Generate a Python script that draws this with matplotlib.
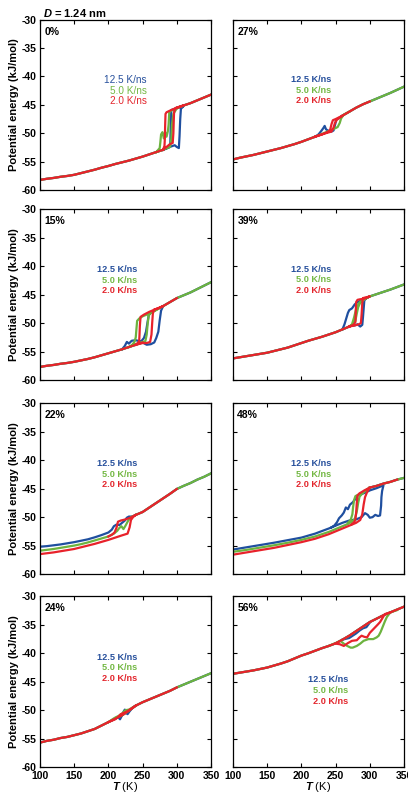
import numpy as np
import matplotlib.pyplot as plt

# Temperature grid shared by the base curves (K)
T_BASE = [100, 110, 120, 130, 140, 150, 160, 170, 180, 190, 200, 210, 220,
          230, 240, 250, 260, 270, 280, 290, 300, 310, 320, 330, 340, 350]

RATE_LABELS = ["12.5 K/ns", "5.0 K/ns", "2.0 K/ns"]
nan = np.nan

# ---- 0 % ----
E_BASE_00 = [-58.2, -58.0, -57.85, -57.65, -57.5, -57.3, -57.0, -56.7, -56.4, -56.05,
             -55.75, -55.4, -55.1, -54.8, -54.45, -54.1, -53.7, -53.3, -52.9, nan,
             -45.5, -45.1, -44.7, -44.2, -43.7, -43.2]
LOOP_00_125 = [(280, -52.9), (286, -52.6), (292, -52.3), (297, -52.1), (300, -52.4), (303, -52.6),
               (304, -50.5), (305, -47.5), (306, -45.7), (310, -45.2), (303, -45.5), (297, -45.7),
               (292, -45.9), (291.5, -47.0), (291, -49.5), (290.5, -51.8), (288, -52.5), (280, -52.9)]
LOOP_00_50 = [(270, -53.3), (280, -52.9), (286, -52.6), (290, -52.4), (292, -51.0), (293, -48.5),
              (295, -46.6), (300, -45.6), (310, -45.1), (300, -45.6), (292, -46.0), (289, -46.3),
              (288, -48.5), (287, -49.6), (285, -50.6), (283, -49.8), (281, -50.9), (279, -49.8),
              (277, -50.2), (276, -51.5), (275, -52.6), (270, -53.3)]
LOOP_00_20 = [(280, -52.9), (285, -52.4), (290, -51.9), (294, -51.7), (295, -50.0), (295.5, -48.0),
              (296, -46.3), (298, -45.6), (310, -45.1), (300, -45.5), (292, -45.9), (285, -46.3),
              (283.5, -46.6), (283, -48.5), (282.5, -51.0), (282, -52.2), (280, -52.9)]
END_00 = [350, 350, 350]

# ---- 27 % ----
E_BASE_27 = [-54.6, -54.3, -54.05, -53.8, -53.5, -53.2, -52.9, -52.6, -52.25, -51.9,
             -51.5, -51.05, -50.6, nan, nan, nan, -46.9, -46.2, -45.5, -44.9,
             -44.4, -43.9, -43.4, -42.9, -42.35, -41.8]
LOOP_27_125 = [(220, -50.6), (225, -50.2), (229, -49.6), (232, -49.1), (234, -48.7), (236, -49.3),
               (240, -49.6), (244, -49.7), (247, -49.5), (249, -48.6), (251, -47.6), (255, -47.3),
               (260, -46.9)]
LOOP_27_50 = [(220, -50.6), (230, -50.1), (240, -49.6), (248, -49.2), (253, -48.9), (256, -48.2),
              (258, -47.4), (262, -46.7), (270, -46.2)]
LOOP_27_20 = [(220, -50.6), (230, -50.2), (238, -49.8), (242, -49.4), (244, -48.4), (246, -47.7),
              (250, -47.5), (260, -46.9), (252, -47.6), (249, -48.2), (247, -49.0), (244, -49.7),
              (235, -50.0), (220, -50.6)]
END_27 = [350, 350, 300]

# ---- 15 % ----
E_BASE_15 = [-57.7, -57.5, -57.35, -57.15, -57.0, -56.8, -56.55, -56.3, -56.0, -55.65,
             -55.3, -54.95, -54.6, -54.2, -53.8, -53.4, nan, nan, -47.0, -46.3,
             -45.6, -45.1, -44.6, -44.0, -43.4, -42.8]
LOOP_15_125 = [(220, -54.6), (224, -54.0), (227, -53.3), (230, -53.6), (234, -53.1), (240, -53.0),
               (246, -53.2), (250, -53.4), (256, -53.8), (262, -53.7), (267, -53.4), (270, -52.6),
               (273, -51.5), (275, -49.5), (277, -47.8), (280, -47.0), (270, -47.6), (263, -48.0),
               (259, -48.6), (257, -50.0), (255, -51.5), (252, -52.6), (248, -53.2)]
LOOP_15_50 = [(230, -54.2), (240, -53.7), (250, -53.3), (254, -53.2), (256, -52.0), (257.5, -50.0),
              (259, -48.6), (262, -48.2), (270, -47.7), (280, -47.0), (270, -47.6), (260, -48.3),
              (250, -48.8), (245, -49.2), (242, -49.6), (241, -51.0), (240, -52.5), (238, -53.3),
              (235, -53.8), (230, -54.2)]
LOOP_15_20 = [(240, -53.8), (250, -53.5), (256, -53.5), (261, -53.3), (263, -52.0), (264, -50.0),
              (265, -48.3), (267, -47.6), (273, -47.4), (280, -47.0), (270, -47.5), (260, -48.0),
              (252, -48.5), (247, -48.9), (246, -50.5), (245.5, -52.0), (245, -53.2), (242, -53.6),
              (240, -53.8)]
END_15 = [350, 350, 300]

# ---- 39 % ----
E_BASE_39 = [-56.2, -56.0, -55.8, -55.6, -55.4, -55.2, -54.9, -54.6, -54.3, -53.9,
             -53.5, -53.1, -52.75, -52.4, -52.0, -51.6, -51.1, -50.6, nan, nan,
             -45.3, -44.9, -44.5, -44.1, -43.65, -43.2]
LOOP_39_125 = [(260, -51.1), (263, -50.2), (266, -49.0), (268, -48.2), (270, -47.7), (274, -47.4),
               (278, -46.7), (282, -46.3), (288, -46.0), (292, -45.8), (300, -45.3), (295, -45.6),
               (292, -46.0), (291, -47.5), (290, -49.0), (289, -50.3), (286, -50.6), (282, -50.2),
               (278, -50.4), (272, -50.5)]
LOOP_39_50 = [(270, -50.6), (276, -50.3), (279, -49.5), (281, -48.3), (283, -47.2), (286, -46.4),
              (292, -45.8), (300, -45.3), (290, -45.9), (284, -46.5), (280, -47.5), (277, -49.0),
              (274, -50.2), (270, -50.6)]
LOOP_39_20 = [(270, -50.6), (278, -50.4), (284, -50.2), (287, -50.0), (288, -48.5), (289, -46.5),
              (290, -45.6), (293, -45.5), (300, -45.3), (292, -45.7), (286, -45.8), (282, -45.9),
              (280, -46.3), (279.5, -48.0), (279, -49.8), (276, -50.3), (270, -50.6)]
END_39 = [350, 350, 300]

# ---- 22 % ----
E_BASE_22 = [nan, nan, nan, nan, nan, nan, nan, nan, nan, nan,
             nan, nan, nan, nan, -49.6, -49.1, -48.3, -47.5, -46.7, -45.9,
             -45.05, -44.5, -44.0, -43.4, -42.9, -42.3]
LOOP_22_125 = [(100, -55.2), (110, -55.1), (120, -54.95), (130, -54.8), (140, -54.6), (150, -54.4),
               (160, -54.15), (170, -53.9), (180, -53.55), (190, -53.15), (200, -52.7), (205, -52.2),
               (208, -51.6), (212, -51.3), (216, -51.4), (220, -51.0), (224, -50.6), (227, -50.1),
               (230, -49.9), (235, -49.9), (240, -49.6)]
LOOP_22_50 = [(100, -55.9), (110, -55.75), (120, -55.6), (130, -55.4), (140, -55.2), (150, -55.0),
              (160, -54.75), (170, -54.45), (180, -54.1), (190, -53.75), (200, -53.4), (208, -52.9),
              (213, -52.4), (216, -51.9), (219, -51.6), (222, -52.1), (225, -51.5), (229, -50.6),
              (233, -50.0), (240, -49.6)]
LOOP_22_20 = [(100, -56.5), (110, -56.35), (120, -56.2), (130, -56.0), (140, -55.8), (150, -55.6),
              (160, -55.3), (170, -55.0), (180, -54.7), (190, -54.35), (200, -54.0), (210, -53.6),
              (220, -53.2), (228, -52.9), (231, -51.8), (233, -50.5), (236, -50.0), (240, -49.6),
              (232, -50.1), (225, -50.4), (218, -50.6), (214, -50.8), (212, -51.8), (209, -52.7),
              (205, -53.1), (200, -53.4)]
END_22 = [350, 350, 300]

# ---- 48 % ----
E_BASE_48 = [nan, nan, nan, nan, nan, nan, nan, nan, nan, nan,
             nan, nan, nan, nan, nan, nan, nan, nan, nan, nan,
             -44.8, -44.5, -44.1, -43.8, -43.4, -43.1]
LOOP_48_125 = [(100, -55.7), (120, -55.3), (140, -54.9), (160, -54.5), (180, -54.05), (200, -53.6),
               (220, -52.9), (240, -52.0), (250, -51.5), (260, -51.0), (270, -50.6), (280, -50.4),
               (288, -50.0), (293, -49.3), (297, -49.6), (300, -50.1), (304, -50.0), (308, -49.6),
               (312, -49.8), (315, -49.7), (316.5, -48.0), (317, -46.5), (318, -45.4), (320, -44.4),
               (310, -44.9), (300, -45.3), (293, -45.7), (287, -46.0), (282, -46.2), (279, -46.8),
               (275, -47.4), (271, -47.8), (268, -48.6), (265, -48.3), (262, -49.2), (259, -49.7),
               (255, -50.2), (252, -50.9), (248, -51.5), (244, -51.8)]
LOOP_48_50 = [(100, -56.1), (120, -55.75), (140, -55.35), (160, -54.95), (180, -54.5), (200, -54.0),
              (220, -53.4), (240, -52.6), (250, -52.1), (260, -51.6), (268, -51.2), (274, -50.8),
              (278, -50.3), (281, -49.0), (283, -47.5), (285, -46.4), (290, -45.7), (300, -44.8),
              (292, -45.5), (284, -46.0), (279, -46.3), (277, -47.0), (275.5, -48.3), (274.5, -49.5),
              (272, -50.5), (268, -51.0)]
LOOP_48_20 = [(100, -56.6), (120, -56.2), (140, -55.8), (160, -55.4), (180, -54.9), (200, -54.4),
              (220, -53.8), (240, -53.0), (250, -52.5), (260, -52.0), (270, -51.5), (280, -51.0),
              (286, -50.5), (289, -49.5), (291, -47.8), (293, -46.5), (296, -45.6), (300, -44.8),
              (292, -45.3), (288, -45.6), (285, -45.8), (282, -46.2), (281, -47.5), (280, -49.3),
              (279, -50.4), (277, -50.9), (274, -51.2)]
END_48 = [350, 350, 340]

# ---- 24 % ----
E_BASE_24 = [-55.7, -55.4, -55.2, -54.9, -54.7, -54.4, -54.1, -53.7, -53.3, -52.7,
             -52.1, -51.5, -50.9, -50.1, -49.2, -48.6, -48.1, -47.6, -47.1, -46.6,
             -46.0, -45.5, -45.0, -44.5, -44.0, -43.5]
LOOP_24_125 = [(205, -51.8), (210, -51.4), (214, -51.2), (217, -51.6), (220, -50.9), (222, -50.3),
               (224, -49.9), (226, -50.5), (228, -50.7), (231, -50.2), (235, -49.6), (240, -49.2)]
LOOP_24_50 = [(200, -52.1), (206, -51.6), (210, -51.3), (215, -51.0), (220, -50.6), (225, -50.0),
              (230, -49.9), (240, -49.2)]
LOOP_24_20 = [(200, -52.1), (210, -51.6), (215, -51.1), (218, -50.7), (222, -50.5), (226, -50.3),
              (230, -50.0), (240, -49.2)]
END_24 = [350, 350, 300]

# ---- 56 % ----
E_BASE_56 = [-43.6, -43.4, -43.2, -43.0, -42.75, -42.5, -42.15, -41.8, -41.4, -40.9,
             -40.4, -40.0, -39.55, -39.1, -38.7, -38.25, -37.6, -36.9, -36.1, -35.3,
             -34.5, -33.9, -33.3, -32.8, -32.3, -31.8]
LOOP_56_125 = [(260, -37.6), (270, -37.3), (280, -36.5), (285, -36.0), (290, -35.6), (295, -35.4),
               (300, -34.6)]
LOOP_56_50 = [(240, -38.7), (250, -38.2), (257, -37.8), (262, -38.3), (267, -38.7), (272, -39.0),
              (275, -39.0), (281, -38.7), (286, -38.3), (291, -37.8), (298, -37.5), (305, -37.5),
              (310, -37.2), (313, -36.9), (316, -36.2), (318, -35.6), (322, -34.4), (325, -33.6),
              (330, -32.8), (340, -32.4)]
LOOP_56_20 = [(250, -38.3), (256, -38.4), (262, -38.7), (268, -38.2), (274, -37.8), (281, -37.7),
              (285, -37.2), (288, -36.9), (292, -37.1), (296, -37.2), (300, -36.4), (304, -35.9),
              (308, -35.4), (312, -34.9), (315, -34.5), (319, -33.7), (322, -33.1), (330, -32.8)]
END_56 = [350, 350, 350]

# ---- style ----
plt.rcParams['font.family'] = ['Liberation Sans', 'DejaVu Sans']
plt.rcParams['font.weight'] = 'bold'
plt.rcParams['axes.unicode_minus'] = False
plt.rcParams['mathtext.fontset'] = 'custom'
plt.rcParams['mathtext.it'] = 'Liberation Sans:italic:bold'
plt.rcParams['mathtext.rm'] = 'Liberation Sans:bold'

LINE_COLORS = ['#1f4f9f', '#6cb33f', '#e8222b']
TEXT_COLORS = ['#27509c', '#74b844', '#e3262d']
LW = 1.6

fig = plt.figure(figsize=(4.08, 7.99), dpi=100)

left_x, right_x, width = 40 / 408, 233 / 408, 171 / 408
row_bottoms = [0.762, 0.5244, 0.2816, 0.040]
height = 0.2135

panels = [
    # (label, base, loops, ends, col, row, legend x, legend y top)
    ("0%", E_BASE_00, [LOOP_00_125, LOOP_00_50, LOOP_00_20], END_00, 0, 0, 0.625, 0.645),
    ("27%", E_BASE_27, [LOOP_27_125, LOOP_27_50, LOOP_27_20], END_27, 1, 0, 0.573, 0.649),
    ("15%", E_BASE_15, [LOOP_15_125, LOOP_15_50, LOOP_15_20], END_15, 0, 1, 0.566, 0.647),
    ("39%", E_BASE_39, [LOOP_39_125, LOOP_39_50, LOOP_39_20], END_39, 1, 1, 0.573, 0.649),
    ("22%", E_BASE_22, [LOOP_22_125, LOOP_22_50, LOOP_22_20], END_22, 0, 2, 0.566, 0.648),
    ("48%", E_BASE_48, [LOOP_48_125, LOOP_48_50, LOOP_48_20], END_48, 1, 2, 0.573, 0.648),
    ("24%", E_BASE_24, [LOOP_24_125, LOOP_24_50, LOOP_24_20], END_24, 0, 3, 0.566, 0.643),
    ("56%", E_BASE_56, [LOOP_56_125, LOOP_56_50, LOOP_56_20], END_56, 1, 3, 0.672, 0.515),
]

T = np.array(T_BASE, dtype=float)

for label, base, loops, ends, col, row, lx, ly in panels:
    x0 = left_x if col == 0 else right_x
    ax = fig.add_axes([x0, row_bottoms[row], width, height])

    for color, loop, tend in zip(LINE_COLORS, loops, ends):
        e = np.array(base, dtype=float)
        e[T > tend] = np.nan
        ax.plot(T, e, color=color, lw=LW)
        lt, le = zip(*loop)
        ax.plot(lt, le, color=color, lw=LW)

    ax.set_xlim(100, 350)
    ax.set_ylim(-60, -30)
    ax.set_xticks([100, 150, 200, 250, 300, 350])
    ax.set_yticks([-60, -55, -50, -45, -40, -35, -30])
    ax.tick_params(direction='in', top=True, right=True, length=3, width=0.8,
                   labelsize=7.5, pad=2.5)
    for s in ax.spines.values():
        s.set_linewidth(0.9)

    if col == 0:
        ax.set_ylabel("Potential energy (kJ/mol)", fontsize=8, fontweight='bold', labelpad=2)
    else:
        ax.set_yticklabels([])
    if row == 3:
        ax.set_xlabel("$T$ (K)", fontsize=8, labelpad=-0.5)
    else:
        ax.set_xticklabels([])

    ax.text(0.025, 0.93, label, transform=ax.transAxes, fontsize=7.5,
            fontweight='bold', va='center', ha='left')

    big = label == "0%"
    step = 0.062 if not (row == 3 and col == 1) else 0.065
    for k, (txt, tc) in enumerate(zip(RATE_LABELS, TEXT_COLORS)):
        ax.text(lx, ly - k * step, txt, transform=ax.transAxes, color=tc,
                fontsize=7.2 if big else 6.6,
                fontweight='normal' if big else 'bold',
                ha='right', va='center')

fig.text(0.105, 0.984, "$D$ = 1.24 nm", fontsize=8, fontweight='bold', va='center', ha='left')

fig.savefig("out.png", dpi=100)
